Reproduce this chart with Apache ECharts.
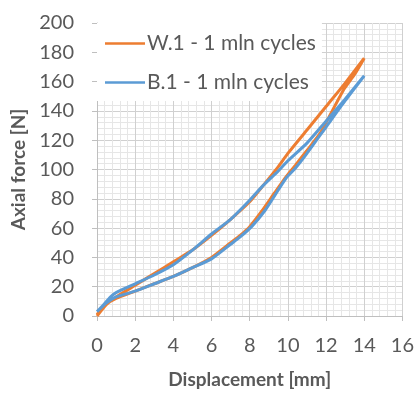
<!DOCTYPE html>
<html>
<head>
<meta charset="utf-8">
<script src="https://cdn.jsdelivr.net/npm/echarts@6/dist/echarts.min.js"></script>
<style>
  html, body { margin: 0; padding: 0; background: #fff; }
  #chart { width: 417px; height: 394px; }
</style>
</head>
<body>
<div id="chart"></div>
<script>
  // W.1 loop: upper branch 0 -> 14, lower branch 14 -> 0
  const wUpX = [0, 0.3, 0.7, 1, 2, 3, 4, 5, 6, 7, 8, 8.7, 9.5, 10, 11, 12, 13, 14];
  const wUpY = [1, 6, 10, 13, 21, 29, 37, 45, 55, 66, 78, 89, 102, 111, 127, 143, 159, 176];
  const wDownX = [14, 13.5, 12.9, 11.7, 11, 10.4, 9.9, 9.3, 8.6, 8, 7.5, 7, 6, 5, 4, 3, 2, 1, 0.5, 0];
  const wDownY = [176, 165, 154, 125, 113, 103, 95, 84, 71, 61, 55, 50, 40, 33, 27, 22, 17, 12, 8, 0];

  // B.1 loop
  const bUpX = [0, 0.3, 0.7, 1, 2, 3, 4, 5, 6, 7, 8, 8.7, 9.5, 10, 11, 12, 13, 14];
  const bUpY = [3, 7, 13, 16, 22, 28, 35, 45, 56, 66, 79, 89, 99, 106, 118, 133, 148, 164];
  const bDownX = [14, 13, 12, 11, 10.4, 9.9, 9.3, 8.8, 8.1, 7.5, 7, 6, 5, 4, 3, 2, 1, 0.5, 0];
  const bDownY = [164, 147, 129, 111, 101, 94, 82, 72, 61, 54, 49, 39, 33, 27, 22, 17, 13, 9, 3];

  const seriesNames = ['W.1 - 1 mln cycles', 'B.1 - 1 mln cycles'];
  const colors = ['#ED7D31', '#5B9BD5'];

  const pairs = (xs, ys) => xs.map((x, i) => [x, ys[i]]);
  const loop = (ux, uy, dx, dy) => pairs(ux, uy).concat(pairs(dx, dy).slice(1));

  const font = 'Lato';
  const grey = '#595959';

  const chart = echarts.init(document.getElementById('chart'));
  chart.setOption({
    animation: false,
    textStyle: { fontFamily: font },
    grid: { left: 97, right: 12, top: 23, bottom: 75 },
    legend: {
      orient: 'vertical',
      left: 97,
      top: 23,
      padding: [10, 6, 8, 8],
      itemGap: 18,
      itemWidth: 40,
      itemHeight: 2.5,
      icon: 'rect',
      backgroundColor: '#fff',
      data: seriesNames,
      textStyle: { fontFamily: font, fontSize: 21, color: grey, padding: [0, 0, 0, -3] },
    },
    xAxis: {
      type: 'value',
      min: 0,
      max: 16,
      interval: 2,
      name: 'Displacement [mm]',
      nameLocation: 'middle',
      nameGap: 54,
      nameTextStyle: { fontFamily: font, fontSize: 19, fontWeight: 'bold', color: grey },
      axisLine: { lineStyle: { color: '#bfbfbf', width: 1 } },
      axisTick: { show: true, length: 5, lineStyle: { color: '#bfbfbf' } },
      axisLabel: { fontFamily: font, fontSize: 20, color: grey, margin: 20 },
      splitLine: { lineStyle: { color: '#d0d0d0' } },
      minorTick: { show: false, splitNumber: 5 },
      minorSplitLine: { show: true, lineStyle: { color: '#e6e6e6' } },
    },
    yAxis: {
      type: 'value',
      min: 0,
      max: 200,
      interval: 20,
      name: 'Axial force [N]',
      nameLocation: 'middle',
      nameGap: 66,
      nameTextStyle: { fontFamily: font, fontSize: 19, fontWeight: 'bold', color: grey },
      axisLine: { show: true, lineStyle: { color: '#bfbfbf', width: 1 } },
      axisTick: { show: true, length: 5, lineStyle: { color: '#bfbfbf' } },
      axisLabel: { fontFamily: font, fontSize: 20, color: grey, margin: 23 },
      splitLine: { lineStyle: { color: '#d0d0d0' } },
      minorTick: { show: false, splitNumber: 5 },
      minorSplitLine: { show: true, lineStyle: { color: '#e6e6e6' } },
    },
    series: [
      {
        name: seriesNames[0],
        type: 'line',
        showSymbol: false,
        symbol: 'none',
        smooth: 0.2,
        color: colors[0],
        lineStyle: { width: 3, color: colors[0] },
        data: loop(wUpX, wUpY, wDownX, wDownY),
      },
      {
        name: seriesNames[1],
        type: 'line',
        showSymbol: false,
        symbol: 'none',
        smooth: 0.2,
        color: colors[1],
        lineStyle: { width: 3, color: colors[1] },
        data: loop(bUpX, bUpY, bDownX, bDownY),
      },
    ],
  });
</script>
</body>
</html>
